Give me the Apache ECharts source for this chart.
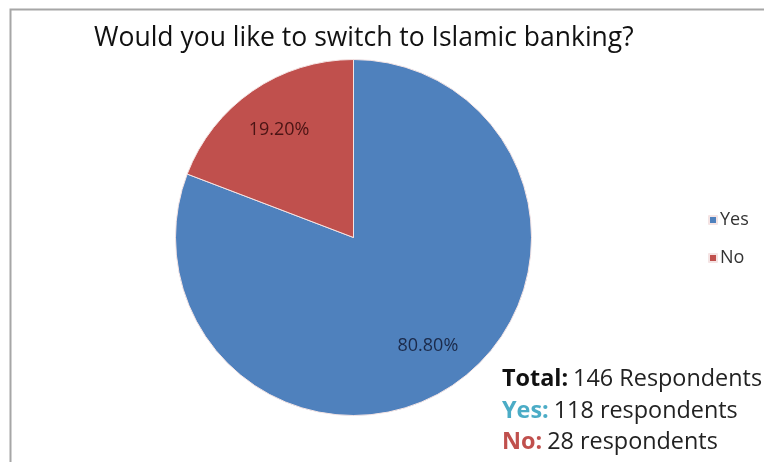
<!DOCTYPE html>
<html>
<head>
<meta charset="utf-8">
<script src="https://cdn.jsdelivr.net/npm/echarts@6/dist/echarts.min.js"></script>
<style>
  html, body { margin: 0; padding: 0; background: #fff; }
  #chart { width: 764px; height: 462px; }
</style>
</head>
<body>
<div id="chart"></div>
<script>
// Survey answers and their shares
const categories = ['Yes', 'No'];
const shares = [80.8, 19.2];
const respondents = [118, 28];
const totalRespondents = 146;
const sliceColors = ['#4F81BD', '#C0504D'];
const labelColors = ['#1b2a4a', '#4a1414'];

const chart = echarts.init(document.getElementById('chart'));

const pieData = categories.map((name, i) => ({
  name: name,
  value: shares[i],
  itemStyle: { color: sliceColors[i] }
}));

const center = [353.5, 237.5];
const radius = 178;
const font = '"Open Sans", Lato, sans-serif';

function noteLine(key, keyColor, rest, top) {
  return {
    text: '{b|' + key + ':} {n|' + rest + '}',
    left: 502, top: top, padding: 0,
    textStyle: { rich: {
      b: { fontFamily: font, fontSize: 23.4, fontWeight: 'bold', color: keyColor },
      n: { fontFamily: font, fontSize: 23.4, fontWeight: 'normal', color: '#222' }
    } }
  };
}

chart.setOption({
  animation: false,
  title: [
    {
      text: 'Would you like to switch to Islamic banking?',
      left: 94, top: 25, padding: 0,
      textStyle: { fontFamily: font, fontSize: 26.5, fontWeight: 'normal', color: '#111' }
    },
    noteLine('Total', '#111', totalRespondents + ' Respondents', 368),
    noteLine(categories[0], '#4BACC6', respondents[0] + ' respondents', 400),
    noteLine(categories[1], '#C0504D', respondents[1] + ' respondents', 431)
  ],
  legend: {
    orient: 'vertical',
    left: 708, top: 211, padding: 0,
    itemWidth: 8, itemHeight: 8,
    itemGap: 20,
    icon: 'rect',
    data: categories,
    textStyle: { fontFamily: font, fontSize: 18, color: '#333', padding: [0, 0, 0, -2] }
  },
  graphic: [
    {
      type: 'polyline',
      silent: true,
      shape: { points: [[10.5, 462], [10.5, 9.5], [764, 9.5]] },
      style: { stroke: '#a6a6a6', lineWidth: 2, fill: null }
    }
  ],
  series: [
    {
      type: 'pie',
      center: center,
      radius: [0, radius],
      startAngle: 90,
      clockwise: true,
      label: { show: false },
      labelLine: { show: false },
      itemStyle: { borderColor: '#f4e4e4', borderWidth: 1 },
      emphasis: { disabled: true },
      data: pieData
    },
    {
      // transparent ring carrying the percentage labels further out than the half radius
      type: 'pie',
      center: center,
      radius: [radius * 0.44, radius],
      startAngle: 90,
      clockwise: true,
      silent: true,
      legendHoverLink: false,
      itemStyle: { color: 'rgba(0,0,0,0)', borderWidth: 0 },
      label: {
        show: true,
        position: 'inside',
        fontFamily: font,
        fontSize: 18,
        formatter: p => p.value.toFixed(2) + '%'
      },
      labelLine: { show: false },
      emphasis: { disabled: true },
      data: categories.map((name, i) => ({
        name: name + ' ',
        value: shares[i],
        label: { color: labelColors[i] }
      }))
    }
  ]
});
</script>
</body>
</html>
